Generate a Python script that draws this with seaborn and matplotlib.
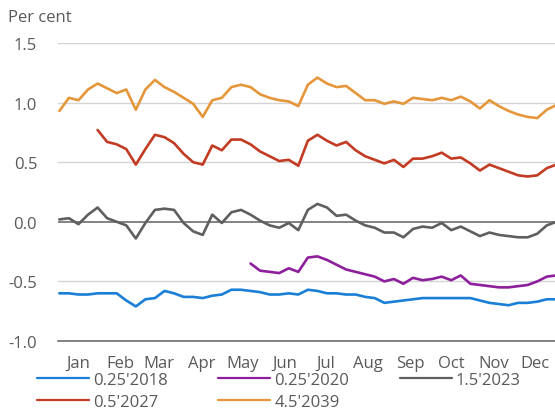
import pandas as pd
import numpy as np
import matplotlib
matplotlib.use('Agg')
import matplotlib.pyplot as plt
import matplotlib.dates as mdates
import seaborn as sns

# weekly readings, first Monday of 2017 onwards
dates = pd.date_range('2017-01-02', periods=53, freq='7D')

y2018 = [-0.60, -0.60, -0.61, -0.61, -0.60, -0.60, -0.60, -0.66, -0.71, -0.65,
         -0.64, -0.58, -0.60, -0.63, -0.63, -0.64, -0.62, -0.61, -0.57, -0.57,
         -0.58, -0.59, -0.61, -0.61, -0.60, -0.61, -0.57, -0.58, -0.60, -0.60,
         -0.61, -0.61, -0.63, -0.64, -0.68, -0.67, -0.66, -0.65, -0.64, -0.64,
         -0.64, -0.64, -0.64, -0.64, -0.66, -0.68, -0.69, -0.70, -0.68, -0.68,
         -0.67, -0.65, -0.65]
y2020 = [None] * 20 + [
         -0.35, -0.41, -0.42, -0.43, -0.39, -0.42, -0.30, -0.29, -0.32, -0.36,
         -0.40, -0.42, -0.44, -0.46, -0.50, -0.48, -0.52, -0.47, -0.49, -0.48,
         -0.46, -0.49, -0.45, -0.52, -0.53, -0.54, -0.55, -0.55, -0.54, -0.53,
         -0.50, -0.46, -0.45]
y2023 = [0.02, 0.03, -0.02, 0.06, 0.12, 0.03, 0.00, -0.03, -0.14, -0.01,
         0.10, 0.11, 0.10, -0.01, -0.08, -0.11, 0.06, -0.01, 0.08, 0.10,
         0.06, 0.01, -0.03, -0.05, -0.01, -0.07, 0.10, 0.15, 0.12, 0.05,
         0.06, 0.01, -0.03, -0.05, -0.09, -0.09, -0.13, -0.06, -0.04, -0.05,
         -0.01, -0.07, -0.04, -0.08, -0.12, -0.09, -0.11, -0.12, -0.13, -0.13,
         -0.10, -0.03, 0.00]
y2027 = [None] * 4 + [
         0.77, 0.67, 0.65, 0.61, 0.48, 0.61, 0.73, 0.71, 0.66, 0.57,
         0.50, 0.48, 0.64, 0.60, 0.69, 0.69, 0.65, 0.59, 0.55, 0.51,
         0.52, 0.47, 0.68, 0.73, 0.68, 0.64, 0.67, 0.60, 0.55, 0.52,
         0.49, 0.52, 0.46, 0.53, 0.53, 0.55, 0.58, 0.53, 0.54, 0.49,
         0.43, 0.48, 0.45, 0.42, 0.39, 0.38, 0.39, 0.45, 0.48]
y2039 = [0.93, 1.04, 1.02, 1.11, 1.16, 1.12, 1.08, 1.11, 0.94, 1.11,
         1.19, 1.13, 1.09, 1.04, 0.99, 0.88, 1.02, 1.04, 1.13, 1.15,
         1.13, 1.07, 1.04, 1.02, 1.01, 0.97, 1.15, 1.21, 1.16, 1.13,
         1.14, 1.08, 1.02, 1.02, 0.99, 1.01, 0.99, 1.04, 1.03, 1.02,
         1.04, 1.02, 1.05, 1.01, 0.95, 1.02, 0.97, 0.93, 0.90, 0.88,
         0.87, 0.94, 0.98]

names = ["0.25'2018", "0.25'2020", "1.5'2023", "0.5'2027", "4.5'2039"]
colors = ['#1a7fd6', '#8e1f9c', '#5f5f5f', '#c23b22', '#e5963a']
months = ['Jan', 'Feb', 'Mar', 'Apr', 'May', 'Jun', 'Jul', 'Aug', 'Sep', 'Oct', 'Nov', 'Dec']

df = pd.DataFrame({'date': dates, names[0]: y2018, names[1]: y2020, names[2]: y2023,
                   names[3]: y2027, names[4]: y2039})
long = df.melt(id_vars='date', var_name='bond', value_name='yield').dropna()

sns.set_style('white')
plt.rcParams['font.family'] = ['Open Sans', 'DejaVu Sans']
plt.rcParams['font.size'] = 12
grey_txt = '#595959'

fig = plt.figure(figsize=(5.55, 4.10), dpi=100)
ax = fig.add_axes([58 / 555, 68 / 410, 1 - 58 / 555, 298 / 410])

sns.lineplot(data=long, x='date', y='yield', hue='bond', hue_order=names,
             palette=dict(zip(names, colors)), estimator=None, linewidth=1.9, ax=ax)

ax.set_ylim(-1.0, 1.5)
ax.set_yticks([-1.0, -0.5, 0.0, 0.5, 1.0, 1.5])
ax.set_yticklabels(['-1.0', '-0.5', '0.0', '0.5', '1.0', '1.5'])
ax.set_xlim(pd.Timestamp('2017-01-01'), pd.Timestamp('2017-12-31'))
ax.set_xlabel('')
ax.set_ylabel('')

for v in [-0.5, 0.5, 1.0, 1.5]:
    ax.axhline(v, color='#d4d4d4', lw=1.0, zorder=0)
ax.axhline(0, color='#606060', lw=1.1, zorder=1)

for s in ['top', 'right', 'left']:
    ax.spines[s].set_visible(False)
ax.spines['bottom'].set_color('#606060')
ax.spines['bottom'].set_linewidth(1.1)

# month boundaries as ticks, names centred between them
ax.xaxis.set_major_locator(mdates.MonthLocator())
ax.xaxis.set_major_formatter(plt.NullFormatter())
mid_month = pd.date_range('2017-01-01', periods=12, freq='MS') + pd.Timedelta(days=15)
ax.set_xticks(mid_month, minor=True)
ax.set_xticklabels(months, minor=True)
ax.tick_params(axis='x', which='major', direction='in', length=4, width=1, color='#606060')
ax.tick_params(axis='x', which='minor', length=0, pad=10, labelcolor=grey_txt, labelsize=12)
ax.tick_params(axis='y', length=0, pad=15, labelcolor=grey_txt, labelsize=12)

fig.text(8 / 555, 1 - 18 / 410, 'Per cent', ha='left', va='center', color=grey_txt, fontsize=12)

ax.get_legend().remove()
handles, labels = ax.get_legend_handles_labels()
lookup = dict(zip(labels, handles))
order = ["0.25'2018", "0.5'2027", "0.25'2020", "4.5'2039", "1.5'2023"]
leg = fig.legend([lookup[k] for k in order], order, loc='upper left',
                 bbox_to_anchor=(37 / 555, 1 - 373 / 410), ncol=3, frameon=False,
                 handlelength=3.1, handletextpad=0.25, columnspacing=3.05,
                 labelspacing=0.36, borderpad=0, borderaxespad=0, fontsize=12)
for t in leg.get_texts():
    t.set_color(grey_txt)
for h in leg.legend_handles:
    h.set_linewidth(1.6)

fig.savefig('out.png', dpi=100)
